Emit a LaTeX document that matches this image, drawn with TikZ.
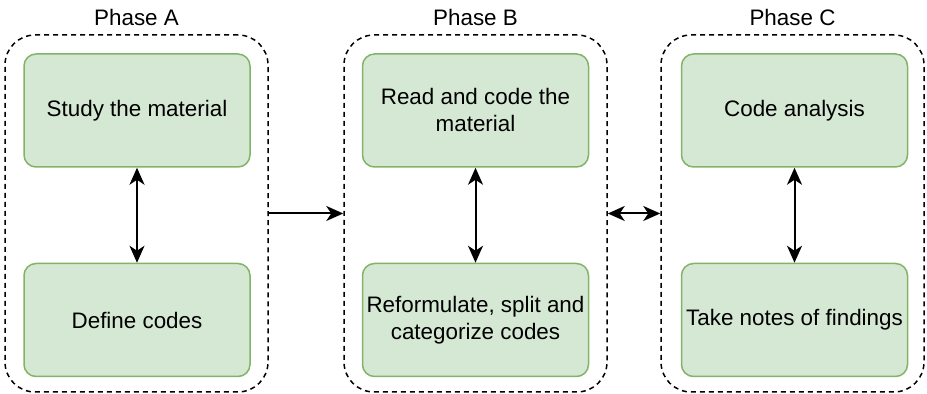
\documentclass[tikz,border=0pt]{standalone}
\usepackage{fontspec}
\setmainfont{Liberation Sans}
\usetikzlibrary{positioning,arrows.meta}
\definecolor{boxfill}{HTML}{D5E8D4}
\definecolor{boxline}{HTML}{82B366}
\begin{document}
\begin{tikzpicture}[x=0.5pt,y=-0.5pt,node distance=47.5pt,
    font=\fontsize{11.2}{13.5}\selectfont,
    phase box/.style={draw,line width=0.75pt,dash pattern=on 2.5pt off 2pt,rounded corners=15pt,minimum width=131.5pt,minimum height=178.5pt},
    code box/.style={draw=boxline,fill=boxfill,line width=0.75pt,rounded corners=6pt,minimum width=113pt,minimum height=56.5pt,inner sep=1pt,align=center},
    link/.style={line width=1pt,{Stealth[length=8.5pt,width=7.5pt,inset=2.5pt]}-{Stealth[length=8.5pt,width=7.5pt,inset=2.5pt]}},
    flow/.style={line width=1pt,-{Stealth[length=8.5pt,width=7.5pt,inset=2.5pt]}}]
    \useasboundingbox (0,0) rectangle (927,394);
    % containers
    \node[phase box] (pa) at (136.5,213.5) {};
    \node[phase box] (pb) at (475.5,213.5) {};
    \node[phase box] (pc) at (792.5,213.5) {};
    \node (la) at (136.5,18) {Phase A};
    \node (lb) at (475.5,18) {Phase B};
    \node (lc) at (792.5,18) {Phase C};
    % steps
    \node[code box] (a1) at (137,110.5) {Study the material};
    \node[code box] (a2) [below=of a1] {Define codes};
    \node[code box] (b1) at (475.5,110.5) {Read and code the\\material};
    \node[code box] (b2) [below=of b1] {Reformulate, split and\\categorize codes};
    \node[code box] (c1) at (794.5,110.5) {Code analysis};
    \node[code box] (c2) [below=of c1] {Take notes of findings};
    \draw[link] (a1) -- (a2);
    \draw[link] (b1) -- (b2);
    \draw[link] (c1) -- (c2);
    \draw[flow] (pa) -- (pb);
    \draw[link] (pb) -- (pc);
\end{tikzpicture}
\end{document}
